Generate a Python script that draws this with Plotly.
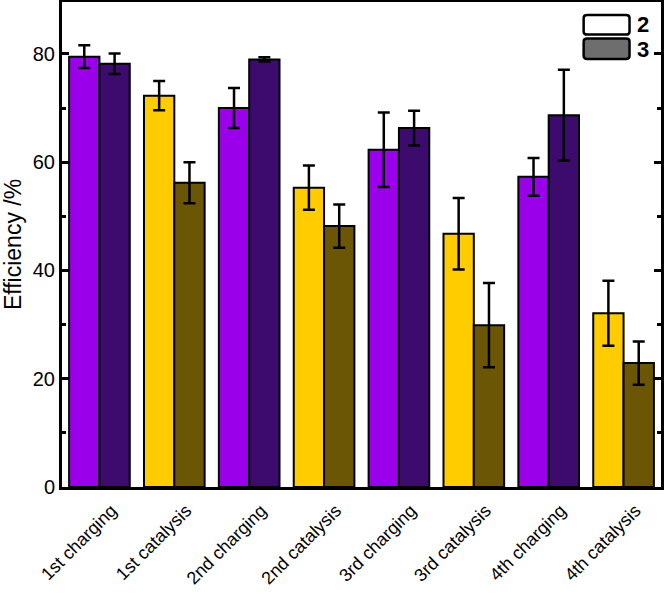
import plotly.graph_objects as go

categories = ["1st charging", "1st catalysis", "2nd charging", "2nd catalysis",
              "3rd charging", "3rd catalysis", "4th charging", "4th catalysis"]
series2_vals = [79.5, 72.3, 70.0, 55.3, 62.3, 46.8, 57.3, 32.1]
series2_err = [2.1, 2.7, 3.7, 4.1, 6.9, 6.6, 3.5, 6.0]
series3_vals = [78.2, 56.2, 79.0, 48.2, 66.3, 29.9, 68.7, 22.9]
series3_err = [1.9, 3.8, 0.4, 4.0, 3.2, 7.8, 8.4, 4.0]
series_names = ["2", "3"]

light_colors = ["#9A00EA" if i % 2 == 0 else "#FFCC00" for i in range(8)]
dark_colors = ["#3D0B6E" if i % 2 == 0 else "#6A5605" for i in range(8)]

fig = go.Figure()
fig.add_trace(go.Bar(
    x=categories, y=series2_vals, name=series_names[0], showlegend=False,
    marker=dict(color=light_colors, line=dict(color="black", width=2)),
    error_y=dict(type="data", array=series2_err, color="black", thickness=2.5, width=6),
))
fig.add_trace(go.Bar(
    x=categories, y=series3_vals, name=series_names[1], showlegend=False,
    marker=dict(color=dark_colors, line=dict(color="black", width=2)),
    error_y=dict(type="data", array=series3_err, color="black", thickness=2.5, width=6),
))

# legend drawn as shapes + text
def rounded_rect(x0, y0, x1, y1, r):
    return (f"M {x0+r},{y0} L {x1-r},{y0} Q {x1},{y0} {x1},{y0+r} L {x1},{y1-r} "
            f"Q {x1},{y1} {x1-r},{y1} L {x0+r},{y1} Q {x0},{y1} {x0},{y1-r} "
            f"L {x0},{y0+r} Q {x0},{y0} {x0+r},{y0} Z")

W, H = 666, 596
def px(x):
    return x / W
def py(y):
    return 1 - y / H

fig.add_shape(type="path", xref="paper", yref="paper",
              path=rounded_rect(px(580), py(40), px(631), py(16), 0.006),
              fillcolor="white", line=dict(color="black", width=2.5))
fig.add_shape(type="path", xref="paper", yref="paper",
              path=rounded_rect(px(580), py(70), px(631), py(45), 0.006),
              fillcolor="#6E6E6E", line=dict(color="black", width=2.5))
fig.add_annotation(x=px(638), y=py(28), xref="paper", yref="paper", text="<b>2</b>",
                   showarrow=False, xanchor="left", yanchor="middle", borderpad=0,
                   font=dict(size=22, color="black", family="Liberation Sans, Arial"))
fig.add_annotation(x=px(638), y=py(58), xref="paper", yref="paper", text="<b>3</b>",
                   showarrow=False, xanchor="left", yanchor="middle", borderpad=0,
                   font=dict(size=22, color="black", family="Liberation Sans, Arial"))

fig.update_layout(
    width=W, height=H,
    margin=dict(l=62, r=5, t=2, b=109),
    paper_bgcolor="white", plot_bgcolor="white",
    barmode="group", bargap=0.19, bargroupgap=0,
    font=dict(family="Liberation Sans, Arial", color="black"),
    showlegend=False,
)
fig.update_xaxes(
    range=[-0.5, 7.5], showline=True, linecolor="black", linewidth=3, mirror=True,
    ticks="", tickangle=-45, tickfont=dict(size=18), showgrid=False,
    ticklabelshift=12, ticklabelstandoff=3, automargin=False,
)
fig.update_yaxes(
    range=[0, 89.6], showline=True, linecolor="black", linewidth=3, mirror="ticks",
    ticks="inside", ticklen=7, tickwidth=3, tickcolor="black",
    tickvals=[0, 20, 40, 60, 80], tickfont=dict(size=20),
    minor=dict(tickvals=[10, 30, 50, 70], ticks="inside", ticklen=4, tickwidth=3, tickcolor="black"),
    showgrid=False, zeroline=False, automargin=False,
    title=dict(text="Efficiency /%", font=dict(size=23), standoff=10),
)

fig.write_html("out.html")
